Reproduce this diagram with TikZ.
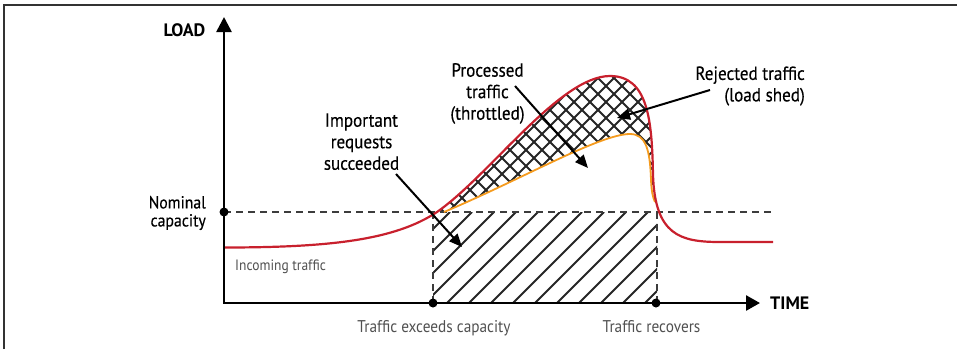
\documentclass[tikz,border=0pt]{standalone}
\usepackage{fontspec}
\setmainfont{PT Sans}
\newfontfamily\lblfont{PT Sans}[FakeStretch=0.9, FakeBold=0.3]
\newfontfamily\grayfont{PT Sans}[FakeStretch=0.9]
\usetikzlibrary{arrows.meta}
\definecolor{curvered}{RGB}{200,32,45}
\definecolor{curveorange}{RGB}{245,155,30}
\definecolor{labelgray}{RGB}{80,80,80}
\definecolor{dashgray}{RGB}{60,60,60}
\definecolor{framegray}{RGB}{50,50,50}
\begin{document}
\begin{tikzpicture}[x=1pt,y=-1pt,
  lbl/.style={inner sep=0pt, font=\lblfont\fontsize{19}{21.5}\selectfont},
  axislbl/.style={inner sep=0pt, font=\fontsize{18}{20}\selectfont\bfseries},
  graylbl/.style={inner sep=0pt, text=labelgray},
  axisline/.style={line width=2.6pt, {Triangle[length=15pt,width=15pt]}-{Triangle[length=14pt,width=15pt]}},
  pointer/.style={line width=2pt, -{Triangle[length=13pt,width=11pt]}},
  dashln/.style={line width=1.5pt, dashgray, dash pattern=on 7pt off 5pt},
  hatchln/.style={line width=1.9pt, black!85},
  redc/.style={line width=2.2pt, curvered},
  orc/.style={line width=1.8pt, curveorange},
  dotmark/.style={circle, fill=black, inner sep=0pt, minimum size=9pt},
  framel/.style={line width=1.4pt, framegray}
]
\useasboundingbox (0,0) rectangle (957,349);
% frame (top and left only visible)
\draw[framel] (4,349) -- (4,5) -- (957,5);

% hatched rectangle (important requests)
\begin{scope}
\clip (433,212) rectangle (657,303);
\foreach \c in {640,662,...,990} {
  \draw[hatchln] ({\c-303},303) -- ({\c-212},212);
}
\end{scope}

% cross-hatched region (rejected traffic)
\begin{scope}
\clip (437,212) .. controls (490,175) and (560,76) .. (610,76)
  .. controls (648,76) and (652,120) .. (653,175) -- (655,202)
  .. controls (653,198) and (651.5,192) .. (651,180)
  .. controls (650,150) and (646,134) .. (630,134)
  .. controls (600,134) and (520,180) .. (444,212) -- cycle;
\foreach \c in {500,516,...,900} {
  \draw[hatchln] ({\c-212},212) -- ({\c-60},60);
}
\foreach \c in {200,216,...,630} {
  \draw[hatchln] ({\c+212},212) -- ({\c+60},60);
}
\end{scope}

% coordinates
\coordinate (O) at (224,303);
\coordinate (ytip) at (224,17);
\coordinate (xtip) at (760,303);
\coordinate (nomend) at (773,212);
\coordinate (exA) at (433,212);
\coordinate (exB) at (657,212);

% dashed nominal capacity line and box sides
\draw[dashln] (224,212) -- (nomend);
\draw[dashln] (exA) -- (433,303);
\draw[dashln] (exB) -- (657,303);

% processed (orange) curve
\draw[orc] (444,212) .. controls (520,180) and (600,134) .. (630,134)
  .. controls (646,134) and (650,150) .. (651,180)
  .. controls (651.5,192) and (653,198) .. (655,202);

% incoming (red) curve
\draw[redc] (224,247.5) .. controls (330,247.5) and (395,240) .. (437,212)
  .. controls (490,175) and (560,76) .. (610,76)
  .. controls (648,76) and (652,120) .. (653,175)
  .. controls (655,235) and (680,242) .. (720,242) -- (773,242);

% axes
\draw[axisline] (ytip) -- (O) -- (xtip);

% dots
\node[dotmark] (dnom) at (224,212) {};
\node[dotmark] (dexc) at (433,303) {};
\node[dotmark] (drec) at (656,303) {};

% labels
\node[axislbl, anchor=base] (load) at (184.5,36) {LOAD};
\node[axislbl, anchor=base west] (time) at (770,309.3) {TIME};
\node[lbl, align=right, anchor=east, font=\lblfont\fontsize{17.5}{18}\selectfont] (nom) at (206,213) {Nominal\\capacity};
\node[graylbl, anchor=base west, font=\grayfont\fontsize{15}{18}\selectfont] (inc) at (235,270.7) {Incoming traffic};
\node[graylbl, anchor=base, font=\grayfont\fontsize{17}{19}\selectfont] (exc) at (434,332.5) {Traffic exceeds capacity};
\node[graylbl, anchor=base, font=\grayfont\fontsize{17}{19}\selectfont] (rec) at (651.5,332.5) {Traffic recovers};
\node[lbl, align=center] (imp) at (361.5,141.7) {Important\\requests\\succeeded};
\node[lbl, align=center] (proc) at (487.5,93.5) {Processed\\traffic\\(throttled)};
\node[lbl, align=right, anchor=east] (rej) at (805,86) {Rejected traffic\\(load shed)};

% pointer arrows
\coordinate (a1s) at (396,174);
\coordinate (a1t) at (462,247);
\coordinate (a2s) at (515,86);
\coordinate (a2t) at (588,168);
\coordinate (a3s) at (710,90);
\coordinate (a3t) at (617,118);
\draw[pointer] (a1s) -- (a1t);
\draw[pointer] (a2s) -- (a2t);
\draw[pointer] (a3s) -- (a3t);
\end{tikzpicture}
\end{document}
